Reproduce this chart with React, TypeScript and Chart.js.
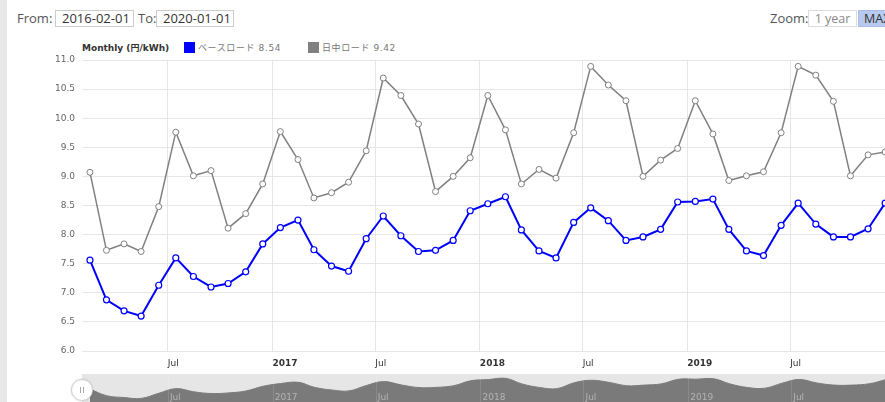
import React, { useEffect, useRef } from 'react';
import { Chart, registerables } from 'chart.js';

Chart.register(...registerables);

// ---------- data ----------
const MONTHS = [
  '2016-02', '2016-03', '2016-04', '2016-05', '2016-06', '2016-07', '2016-08', '2016-09', '2016-10', '2016-11', '2016-12',
  '2017-01', '2017-02', '2017-03', '2017-04', '2017-05', '2017-06', '2017-07', '2017-08', '2017-09', '2017-10', '2017-11', '2017-12',
  '2018-01', '2018-02', '2018-03', '2018-04', '2018-05', '2018-06', '2018-07', '2018-08', '2018-09', '2018-10', '2018-11', '2018-12',
  '2019-01', '2019-02', '2019-03', '2019-04', '2019-05', '2019-06', '2019-07', '2019-08', '2019-09', '2019-10', '2019-11', '2019-12',
];

const BASELOAD = [
  7.56, 6.88, 6.69, 6.6, 7.13, 7.6, 7.28, 7.1, 7.16, 7.36, 7.84,
  8.12, 8.25, 7.74, 7.46, 7.37, 7.93, 8.32, 7.98, 7.71, 7.73, 7.9, 8.41,
  8.53, 8.65, 8.08, 7.72, 7.6, 8.21, 8.46, 8.24, 7.9, 7.96, 8.09, 8.56,
  8.57, 8.61, 8.09, 7.72, 7.64, 8.16, 8.54, 8.18, 7.96, 7.96, 8.1, 8.54,
];

const DAYTIME = [
  9.07, 7.73, 7.84, 7.71, 8.48, 9.76, 9.01, 9.1, 8.11, 8.36, 8.87,
  9.77, 9.29, 8.63, 8.72, 8.9, 9.44, 10.69, 10.39, 9.9, 8.74, 9.0, 9.32,
  10.39, 9.8, 8.87, 9.12, 8.97, 9.75, 10.89, 10.57, 10.3, 9.0, 9.28, 9.48,
  10.3, 9.73, 8.93, 9.01, 9.08, 9.75, 10.89, 10.74, 10.29, 9.01, 9.37, 9.42,
];

const SERIES_NAMES = ['ベースロード', '日中ロード'];
const SERIES_COLORS = ['#0000ff', '#808080'];
const LEGEND_TITLE = 'Monthly (円/kWh)';

const TICK_DATES = ['2016-07-01', '2017-01-01', '2017-07-01', '2018-01-01', '2018-07-01', '2019-01-01', '2019-07-01'];
const TICK_LABELS = ['Jul', '2017', 'Jul', '2018', 'Jul', '2019', 'Jul'];

const RANGE_FROM = '2016-02-01';
const RANGE_TO = '2020-01-01';
const Y_MIN = 6;
const Y_MAX = 11;
const Y_STEP = 0.5;
const NAV_Y_MIN = 5;
const NAV_Y_MAX = 9.1;

// ---------- helpers ----------
const AXIS_FONT = "'DejaVu Sans', 'Noto Sans CJK JP', sans-serif";
const UI_FONT = "'Open Sans', 'Noto Sans', sans-serif";

const dayOf = (iso: string) => {
  const [y, m, d] = iso.split('-').map(Number);
  return Date.UTC(y, m - 1, d || 1) / 86400000;
};
const pointDay = (ym: string) => dayOf(ym + '-15');

const setTicks = (scale: any) => {
  scale.ticks = TICK_DATES.map((d) => ({ value: dayOf(d) }));
};

const navLabelsPlugin = {
  id: 'navLabels',
  afterDatasetsDraw(chart: any) {
    const { ctx } = chart;
    const x = chart.scales.x;
    ctx.save();
    ctx.font = `9px ${AXIS_FONT}`;
    ctx.fillStyle = '#b4b4b4';
    ctx.textBaseline = 'middle';
    ctx.textAlign = 'left';
    TICK_DATES.forEach((d, i) => {
      const px = x.getPixelForValue(dayOf(d));
      ctx.strokeStyle = 'rgba(255,255,255,0.12)';
      ctx.lineWidth = 1;
      ctx.beginPath();
      ctx.moveTo(Math.round(px) + 0.5, 0);
      ctx.lineTo(Math.round(px) + 0.5, chart.height);
      ctx.stroke();
      ctx.fillText(TICK_LABELS[i], px + 2, 24);
    });
    ctx.restore();
  },
};

export default function App() {
  const mainRef = useRef<HTMLCanvasElement>(null);
  const navRef = useRef<HTMLCanvasElement>(null);

  useEffect(() => {
    const xMin = dayOf(RANGE_FROM);
    const xMax = dayOf(RANGE_TO);

    const main = new Chart(mainRef.current as HTMLCanvasElement, {
      type: 'line',
      data: {
        datasets: [
          {
            label: SERIES_NAMES[0],
            data: MONTHS.map((m, i) => ({ x: pointDay(m), y: BASELOAD[i] })),
            borderColor: SERIES_COLORS[0],
            backgroundColor: SERIES_COLORS[0],
            borderWidth: 2,
            pointRadius: 3,
            pointBackgroundColor: '#ffffff',
            pointBorderColor: SERIES_COLORS[0],
            pointBorderWidth: 1.2,
            tension: 0,
          },
          {
            label: SERIES_NAMES[1],
            data: MONTHS.map((m, i) => ({ x: pointDay(m), y: DAYTIME[i] })),
            borderColor: SERIES_COLORS[1],
            backgroundColor: SERIES_COLORS[1],
            borderWidth: 1.5,
            pointRadius: 3,
            pointBackgroundColor: '#ffffff',
            pointBorderColor: SERIES_COLORS[1],
            pointBorderWidth: 1,
            tension: 0,
          },
        ],
      },
      options: {
        animation: false,
        responsive: true,
        maintainAspectRatio: false,
        layout: { padding: { top: 60, right: 4, left: 0, bottom: 0 } },
        plugins: { legend: { display: false }, tooltip: { enabled: false } },
        scales: {
          x: {
            type: 'linear',
            min: xMin,
            max: xMax,
            afterBuildTicks: setTicks,
            afterFit: (s: any) => {
              s.height = 24;
            },
            grid: { color: '#e6e6e6', drawTicks: false, lineWidth: 1 },
            border: { display: false },
            ticks: {
              autoSkip: false,
              maxRotation: 0,
              align: 'start',
              padding: 7,
              color: '#333333',
              callback: (_v: any, i: number) => TICK_LABELS[i],
              font: (ctx: any) => ({
                family: AXIS_FONT,
                size: 9,
                weight: /^\d{4}$/.test(TICK_LABELS[ctx.index] || '') ? 'bold' : 'normal',
              }),
            },
          } as any,
          y: {
            min: Y_MIN,
            max: Y_MAX,
            afterFit: (s: any) => {
              s.width = 82;
            },
            grid: { color: '#e6e6e6', drawTicks: false, lineWidth: 1 },
            border: { display: false },
            ticks: {
              stepSize: Y_STEP,
              padding: 7,
              color: '#666666',
              font: { family: AXIS_FONT, size: 9 },
              callback: (v: any) => Number(v).toFixed(1),
            },
          },
        },
      },
    });

    const nav = new Chart(navRef.current as HTMLCanvasElement, {
      type: 'line',
      data: {
        datasets: [
          {
            data: MONTHS.map((m, i) => ({ x: pointDay(m), y: BASELOAD[i] })),
            borderColor: '#7a7a7a',
            backgroundColor: '#7a7a7a',
            borderWidth: 1,
            pointRadius: 0,
            fill: 'start',
            tension: 0.4,
          },
        ],
      },
      options: {
        animation: false,
        responsive: true,
        maintainAspectRatio: false,
        layout: { padding: { top: 0, right: 4, left: 82, bottom: 0 } },
        plugins: { legend: { display: false }, tooltip: { enabled: false } },
        scales: {
          x: { type: 'linear', display: false, min: xMin, max: xMax, afterBuildTicks: setTicks } as any,
          y: { display: false, min: NAV_Y_MIN, max: NAV_Y_MAX },
        },
      },
      plugins: [navLabelsPlugin],
    });

    return () => {
      main.destroy();
      nav.destroy();
    };
  }, []);

  const text = (left: number, content: string, extra: any = {}) => (
    <div
      style={{
        position: 'absolute',
        left,
        top: 10,
        height: 17,
        lineHeight: '17px',
        fontSize: 13,
        color: '#555',
        whiteSpace: 'nowrap',
        ...extra,
      }}
    >
      {content}
    </div>
  );

  const box = (left: number, width: number, content: string, extra: any = {}) => (
    <div
      style={{
        position: 'absolute',
        left,
        top: 10,
        width,
        height: 17,
        boxSizing: 'border-box',
        border: '1px solid #cccccc',
        background: '#fff',
        lineHeight: '15px',
        fontSize: 13,
        color: '#333',
        paddingLeft: 6,
        whiteSpace: 'nowrap',
        overflow: 'hidden',
        ...extra,
      }}
    >
      {content}
    </div>
  );

  const legendItem = (left: number, color: string, label: string) => (
    <>
      <div style={{ position: 'absolute', left, top: 42, width: 11, height: 11, background: color }} />
      <div
        style={{
          position: 'absolute',
          left: left + 14,
          top: 42,
          lineHeight: '12px',
          fontSize: 9,
          letterSpacing: '0.6px',
          fontFamily: AXIS_FONT,
          color: '#777',
          whiteSpace: 'nowrap',
        }}
      >
        {label}
      </div>
    </>
  );

  return (
    <div
      style={{
        position: 'fixed',
        left: 0,
        top: 0,
        width: 885,
        height: 402,
        overflow: 'hidden',
        background: '#fff',
        fontFamily: UI_FONT,
      }}
    >
      <div style={{ position: 'absolute', left: 0, top: 0, width: 7, height: 402, background: '#e8e8e8' }} />

      {text(17, 'From:')}
      {box(55, 79, RANGE_FROM)}
      {text(138, 'To:')}
      {box(156, 78, RANGE_TO)}
      {text(770, 'Zoom:')}
      {box(808, 49, '1 year', { color: '#888', border: '1px solid #dddddd', paddingLeft: 0, textAlign: 'center', fontSize: 12.5 })}
      {box(858, 48, 'MAX', { color: '#333', background: '#b7c9ee', border: '1px solid #a9bde6', paddingLeft: 5, fontSize: 12.5 })}

      <div
        style={{
          position: 'absolute',
          left: 82,
          top: 42,
          lineHeight: '12px',
          fontSize: 9,
          fontWeight: 'bold',
          fontFamily: AXIS_FONT,
          color: '#333',
          whiteSpace: 'nowrap',
        }}
      >
        {LEGEND_TITLE}
      </div>
      {legendItem(184, SERIES_COLORS[0], `${SERIES_NAMES[0]} ${BASELOAD[BASELOAD.length - 1].toFixed(2)}`)}
      {legendItem(308, SERIES_COLORS[1], `${SERIES_NAMES[1]} ${DAYTIME[DAYTIME.length - 1].toFixed(2)}`)}

      <div style={{ position: 'absolute', left: 0, top: 0, width: 900, height: 375 }}>
        <canvas ref={mainRef} />
      </div>

      <div style={{ position: 'absolute', left: 82, top: 374, width: 814, height: 40, background: '#e6e6e6' }} />
      <div style={{ position: 'absolute', left: 0, top: 374, width: 900, height: 40 }}>
        <canvas ref={navRef} />
      </div>

      <div
        style={{
          position: 'absolute',
          left: 71,
          top: 379,
          width: 20,
          height: 20,
          borderRadius: '50%',
          background: '#fff',
          border: '1px solid #d0d0d0',
          boxShadow: '0 0 2px rgba(0,0,0,0.15)',
        }}
      >
        <div style={{ position: 'absolute', left: 8, top: 7, width: 1, height: 6, background: '#aaa' }} />
        <div style={{ position: 'absolute', left: 11, top: 7, width: 1, height: 6, background: '#aaa' }} />
      </div>
    </div>
  );
}
